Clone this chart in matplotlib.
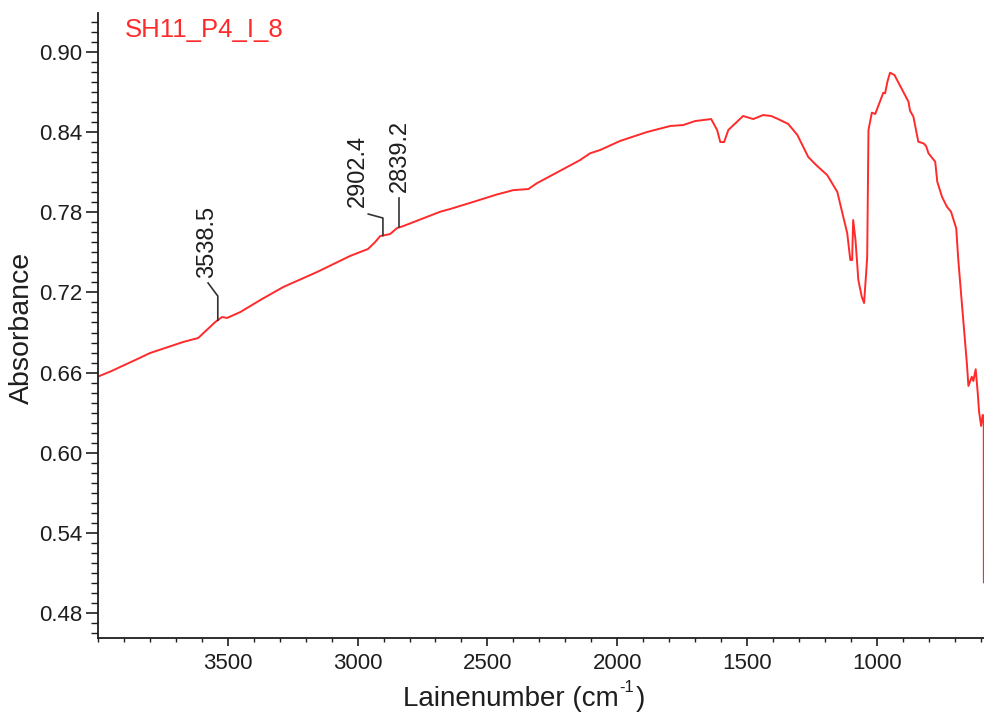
import numpy as np
import matplotlib
matplotlib.use("Agg")
import matplotlib.pyplot as plt
from matplotlib.ticker import MultipleLocator, FixedLocator

plt.rcParams['font.family'] = ['Liberation Sans', 'DejaVu Sans']

# FTIR spectrum (wavenumber in cm-1, descending) and absorbance
wavenumber = [4000, 3950, 3900, 3850, 3800, 3740, 3672, 3614, 3548, 3522,
              3503, 3452, 3375, 3286, 3156, 3029, 2960, 2932, 2913, 2875,
              2848, 2824, 2682, 2643, 2554, 2464, 2400, 2342, 2310, 2233,
              2143, 2104, 2066, 1989, 1885, 1796, 1746, 1700, 1638, 1615,
              1603, 1588, 1572, 1515, 1476, 1438, 1407, 1380, 1341, 1306,
              1264, 1230, 1191, 1152, 1129, 1114, 1102, 1095, 1091, 1082,
              1071, 1058, 1049, 1041, 1037, 1032, 1019, 1006, 975, 968,
              959, 949, 932, 878, 872, 859, 840, 820, 810, 801,
              775, 767, 749, 730, 714, 694, 686, 672, 653, 647,
              634, 628, 619, 611, 606, 598, 592, 589, 588, 587.5]
absorbance = [0.657, 0.661, 0.6655, 0.670, 0.6746, 0.6785, 0.6829, 0.6859, 0.6979, 0.7016,
              0.7009, 0.7053, 0.7143, 0.7241, 0.7353, 0.7473, 0.7525, 0.7578, 0.7622, 0.7637,
              0.7682, 0.7697, 0.7804, 0.7825, 0.7878, 0.7933, 0.7966, 0.7974, 0.8017, 0.8097,
              0.8191, 0.8242, 0.8266, 0.8334, 0.8401, 0.8446, 0.8453, 0.8483, 0.8498, 0.8416,
              0.8326, 0.8326, 0.8416, 0.8521, 0.8498, 0.8528, 0.8521, 0.8498, 0.8461, 0.8379,
              0.8214, 0.8147, 0.8079, 0.7952, 0.7765, 0.7645, 0.7443, 0.7443, 0.7742, 0.7592,
              0.7293, 0.7168, 0.7121, 0.7345, 0.7465, 0.8416, 0.8546, 0.8536, 0.8695, 0.8691,
              0.8778, 0.8845, 0.8828, 0.8628, 0.8561, 0.8516, 0.8328, 0.8316, 0.8296, 0.8242,
              0.8179, 0.8029, 0.7917, 0.7842, 0.7804, 0.7680, 0.7443, 0.7113, 0.6669, 0.6500,
              0.6569, 0.6537, 0.6625, 0.6445, 0.6307, 0.6200, 0.6282, 0.6280, 0.6220, 0.503]

peak_labels = [3538.5, 2902.4, 2839.2]

sample_name = "SH11_P4_I_8"
y_major = [0.48, 0.54, 0.60, 0.66, 0.72, 0.78, 0.84, 0.90]
x_major = [3500, 3000, 2500, 2000, 1500, 1000]

red = '#ff2a2a'
ink = '#1e1e1e'

fig = plt.figure(figsize=(9.84, 7.16), dpi=100)
ax = fig.add_axes([98 / 984, 1 - 638 / 716, (984 - 98) / 984, (638 - 13) / 716])

ax.plot(wavenumber, absorbance, color=red, lw=1.4, solid_joinstyle='round')

ax.set_xlim(4000, 587)
ax.set_ylim(0.4613, 0.9292)

for s in ['top', 'right']:
    ax.spines[s].set_visible(False)
for s in ['left', 'bottom']:
    ax.spines[s].set_linewidth(1.3)
    ax.spines[s].set_color(ink)

ax.yaxis.set_major_locator(FixedLocator(y_major))
ax.yaxis.set_minor_locator(FixedLocator(np.round(np.arange(0.4575, 0.93, 0.0075), 4)))
ax.set_yticklabels([f"{v:.2f}" for v in y_major])
ax.xaxis.set_major_locator(FixedLocator(x_major))
ax.xaxis.set_minor_locator(MultipleLocator(100))
ax.set_xticklabels([str(v) for v in x_major])

ax.tick_params(axis='y', which='major', length=9, width=1.2, color=ink, labelsize=16,
               labelcolor=ink, pad=2)
ax.tick_params(axis='y', which='minor', length=5, width=1.0, color=ink)
ax.tick_params(axis='x', which='major', length=6, width=1.2, color=ink, labelsize=16,
               labelcolor=ink, pad=5)
ax.tick_params(axis='x', which='minor', length=3, width=1.0, color=ink)

fig.text(22 / 984, 1 - 328 / 716, "Absorbance", rotation=90, ha='center', va='center',
         fontsize=20.5, color=ink)

# x-axis title with a small raised "-1"
xl_main = fig.text(403 / 984, 1 - 706 / 716, "Lainenumber (cm", ha='left',
                   va='baseline', fontsize=20, color=ink)
fig.canvas.draw()
r = fig.canvas.get_renderer()
bb = xl_main.get_window_extent(r)
sup = fig.text((bb.x1 + 1) / 984, 1 - 692 / 716, "-1", ha='left', va='baseline',
               fontsize=12, color=ink)
bb2 = sup.get_window_extent(r)
fig.text((bb2.x1 + 1) / 984, 1 - 706 / 716, ")", ha='left', va='baseline',
         fontsize=20, color=ink)

fig.text(125 / 984, 1 - 37 / 716, sample_name, ha='left', va='baseline', fontsize=18.5,
         color=red)

# peak markers: vertical tick from the curve, optional bent leader, rotated label
wn_asc = np.array(wavenumber)[::-1]
ab_asc = np.array(absorbance)[::-1]
leaders = {
    3538.5: dict(top=0.7173, bend=(3576, 0.7271), text=(3579, 0.7308)),
    2902.4: dict(top=0.7757, bend=(2959, 0.7787), text=(3000, 0.7840)),
    2839.2: dict(top=0.7907, bend=None, text=(2836, 0.7952)),
}
for pk in peak_labels:
    d = leaders[pk]
    y0 = float(np.interp(pk, wn_asc, ab_asc))
    xs, ys = [pk, pk], [y0, d['top']]
    if d['bend'] is not None:
        xs.append(d['bend'][0])
        ys.append(d['bend'][1])
    ax.plot(xs, ys, color='#333333', lw=1.2)
    ax.text(d['text'][0], d['text'][1], f"{pk:.1f}", rotation=90, ha='center',
            va='bottom', fontsize=17, color=ink)

fig.savefig("out.png", dpi=100)
